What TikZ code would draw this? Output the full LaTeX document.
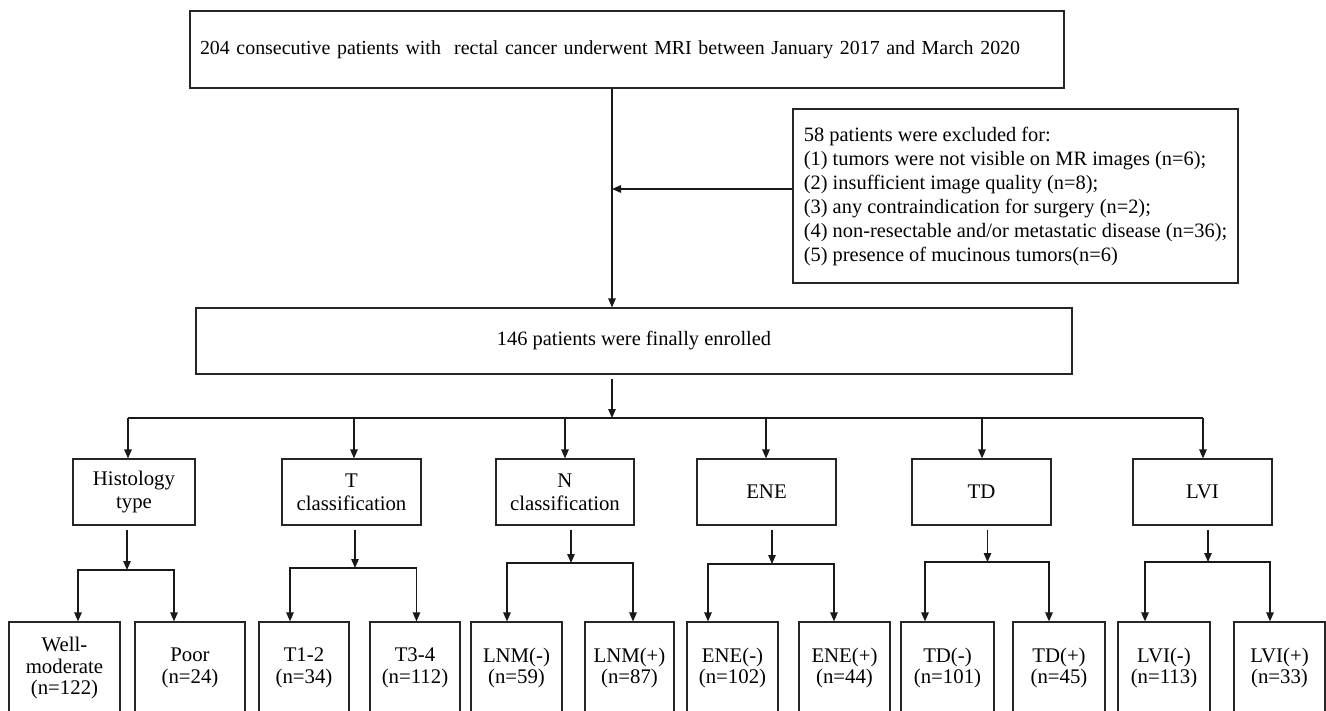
\documentclass[tikz,border=0pt]{standalone}
\usepackage{fontspec}
\setmainfont{Liberation Serif}
\usetikzlibrary{arrows.meta}
\begin{document}
\begin{tikzpicture}[x=1pt,y=-1pt,
  box/.style={draw=black!85, line width=1.2pt, inner sep=0pt, align=center,
    font=\fontsize{20.4}{23}\selectfont},
  mid/.style={box, minimum height=66pt, font=\fontsize{20.8}{23}\selectfont},
  leaf/.style={box, minimum height=92pt, font=\fontsize{20.8}{21.5}\selectfont},
  conn/.style={line width=1.2pt, draw=black!90},
  arr/.style={conn, -{Triangle[length=9pt,width=7.5pt]}}]
\useasboundingbox (0,0) rectangle (1326,710);
\clip (0,0) rectangle (1326,710);
\fill[white] (0,0) rectangle (1326,710);

% main boxes
\node[box, minimum width=874pt, minimum height=77pt, text width=854pt, inner xsep=10pt, align=left,
  font=\fontsize{19.9}{23}\selectfont] (top) at (627,49.5)
  {204 consecutive patients with~ rectal cancer underwent MRI between January 2017 and March 2020};
\node[box, minimum width=445pt, minimum height=174pt, align=left, font=\fontsize{20.4}{24}\selectfont] (excl) at (1015.5,196)
  {58 patients were excluded for:\\
   (1) tumors were not visible on MR images (n=6);\\
   (2) insufficient image quality (n=8);\\
   (3) any contraindication for surgery (n=2);\\
   (4) non-resectable and/or metastatic disease (n=36);\\
   (5) presence of mucinous tumors(n=6)};
\node[box, minimum width=876pt, minimum height=66pt] (enr) at (634,341) {146 patients were finally enrolled};

% second level
\node[mid, minimum width=122pt] (hist) at (134,492) {Histology\\type};
\node[mid, minimum width=139pt] (tcl) at (351.5,492) {T\\classification};
\node[mid, minimum width=138pt] (ncl) at (565,492) {N\\classification};
\node[mid, minimum width=139pt] (ene) at (766.5,492) {ENE};
\node[mid, minimum width=139pt] (td) at (981.5,492) {TD};
\node[mid, minimum width=139pt] (lvi) at (1202.5,492) {LVI};

% leaves
\node[leaf, minimum width=111pt] (wm) at (64.5,668) {Well-\\moderate\\(n=122)};
\node[leaf, minimum width=110pt] (poor) at (190,668) {Poor\\(n=24)};
\node[leaf, minimum width=90pt] (t12) at (304,668) {T1-2\\(n=34)};
\node[leaf, minimum width=90pt] (t34) at (415,668) {T3-4\\(n=112)};
\node[leaf, minimum width=91pt] (lnmn) at (516.5,668) {LNM(-)\\(n=59)};
\node[leaf, minimum width=89pt] (lnmp) at (629.5,668) {LNM(+)\\(n=87)};
\node[leaf, minimum width=91pt] (enen) at (732.5,668) {ENE(-)\\(n=102)};
\node[leaf, minimum width=91pt] (enep) at (844.5,668) {ENE(+)\\(n=44)};
\node[leaf, minimum width=93pt] (tdn) at (947.5,668) {TD(-)\\(n=101)};
\node[leaf, minimum width=92pt] (tdp) at (1059,668) {TD(+)\\(n=45)};
\node[leaf, minimum width=92pt] (lvin) at (1164,668) {LVI(-)\\(n=113)};
\node[leaf, minimum width=91pt] (lvip) at (1279.5,668) {LVI(+)\\(n=33)};

% spine
\coordinate (spine) at (612,0);
\coordinate (ex) at (612,189);
\coordinate (bus) at (612,418);
\draw[arr] (spine |- top.south) -- (spine |- enr.north);
\draw[arr] (excl.west |- ex) -- (ex);
\draw[arr, shorten <=4pt] (spine |- enr.south) -- (bus);

% bus and drops
\coordinate (d1) at (128,418);
\coordinate (d2) at (354,418);
\coordinate (d3) at (565,418);
\coordinate (d4) at (766,418);
\coordinate (d5) at (982,418);
\coordinate (d6) at (1203,418);
\draw[conn] (d1) -- (d6);
\draw[arr] (d1) -- (d1 |- hist.north);
\draw[arr] (d2) -- (d2 |- tcl.north);
\draw[arr] (d3) -- (d3 |- ncl.north);
\draw[arr] (d4) -- (d4 |- ene.north);
\draw[arr] (d5) -- (d5 |- td.north);
\draw[arr] (d6) -- (d6 |- lvi.north);

% splits
\coordinate (s1) at (127,570);
\coordinate (s2) at (355,568);
\coordinate (s3) at (571,563);
\coordinate (s4) at (772,564);
\coordinate (s5) at (987.5,562);
\coordinate (s6) at (1208,562);
\draw[arr, shorten <=4pt] (s1 |- hist.south) -- (s1);
\draw[arr, shorten <=4pt] (s2 |- tcl.south) -- (s2);
\draw[arr, shorten <=4pt] (s3 |- ncl.south) -- (s3);
\draw[arr, shorten <=4pt] (s4 |- ene.south) -- (s4);
\draw[arr, shorten <=4pt] (s5 |- td.south) -- (s5);
\draw[arr, shorten <=4pt] (s6 |- lvi.south) -- (s6);

\draw[arr] (s1) -| (78,0 |- wm.north);
\draw[arr] (s1) -| (174,0 |- poor.north);
\draw[arr] (s2) -| (290,0 |- t12.north);
\draw[arr] (s2) -| (416.5,0 |- t34.north);
\draw[arr] (s3) -| (507,0 |- lnmn.north);
\draw[arr] (s3) -| (633,0 |- lnmp.north);
\draw[arr] (s4) -| (708,0 |- enen.north);
\draw[arr] (s4) -| (834,0 |- enep.north);
\draw[arr] (s5) -| (925,0 |- tdn.north);
\draw[arr] (s5) -| (1049,0 |- tdp.north);
\draw[arr] (s6) -| (1145,0 |- lvin.north);
\draw[arr] (s6) -| (1270,0 |- lvip.north);
\end{tikzpicture}
\end{document}
